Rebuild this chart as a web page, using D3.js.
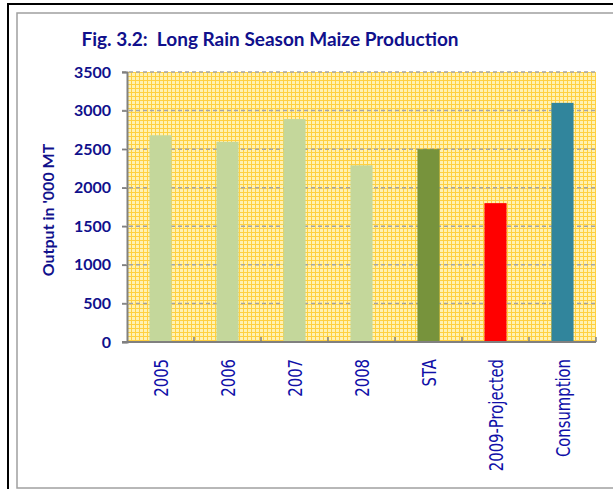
<!DOCTYPE html>
<html>
<head>
<meta charset="utf-8">
<title></title>
<script src="https://d3js.org/d3.v7.min.js"></script>
<style>
  body { margin: 0; background: #fff; }
</style>
</head>
<body>
<svg width="613" height="489"></svg>
<script>
  var categories = ["2005", "2006", "2007", "2008", "STA", "2009-Projected", "Consumption"];
  var values = [2680, 2595, 2890, 2290, 2500, 1800, 3100];
  var barColors = ["#c4d79b", "#c4d79b", "#c4d79b", "#c4d79b", "#77933c", "#ff0000", "#31859c"];
  var yTicks = [0, 500, 1000, 1500, 2000, 2500, 3000, 3500];

  var svg = d3.select("svg");
  var navy = "#10108c";

  // frames
  svg.append("rect").attr("x", 8).attr("y", 4).attr("width", 620).attr("height", 500)
    .attr("fill", "none").attr("stroke", "#000").attr("stroke-width", 2);
  svg.append("rect").attr("x", 17).attr("y", 13).attr("width", 620).attr("height", 475)
    .attr("fill", "none").attr("stroke", "#a0a0a0").attr("stroke-width", 1.5);

  var margin = {left: 127, top: 72, right: 17, bottom: 147};
  var width = 613 - margin.left - margin.right,
      height = 489 - margin.top - margin.bottom;

  var x = d3.scaleBand().domain(categories).range([0, width]).paddingInner(0.67).paddingOuter(0.335);
  var xb = d3.scaleBand().domain(categories).range([0, width]);
  var y = d3.scaleLinear().domain([0, 3500]).range([height, 0]);

  // grid pattern for plot background
  var defs = svg.append("defs");
  var pat = defs.append("pattern").attr("id", "grid").attr("width", 4).attr("height", 4)
    .attr("patternUnits", "userSpaceOnUse");
  pat.append("rect").attr("width", 4).attr("height", 4).attr("fill", "#fff2b3");
  pat.append("rect").attr("width", 4).attr("height", 1).attr("fill", "#ffd040");
  pat.append("rect").attr("width", 1).attr("height", 4).attr("fill", "#ffd040");

  var g = svg.append("g").attr("transform", "translate(" + margin.left + "," + margin.top + ")");

  g.append("rect").attr("width", width).attr("height", height).attr("fill", "url(#grid)");

  // dashed gridlines
  g.selectAll(".grid").data(yTicks.filter(function(d) { return d > 0; }))
    .enter().append("line")
    .attr("x1", -5).attr("x2", width)
    .attr("y1", function(d) { return y(d); }).attr("y2", function(d) { return y(d); })
    .attr("stroke", "#a6a6a6").attr("stroke-width", 1.5).attr("stroke-dasharray", "4,3");

  // bars
  g.selectAll(".bar").data(values).enter().append("rect")
    .attr("x", function(d, i) { return x(categories[i]); })
    .attr("width", x.bandwidth())
    .attr("y", function(d) { return y(d); })
    .attr("height", function(d) { return height - y(d); })
    .attr("fill", function(d, i) { return barColors[i]; });

  // y axis
  var yAxis = g.append("g").call(d3.axisLeft(y).tickValues(yTicks).tickFormat(d3.format("d")).tickSize(5).tickPadding(11));
  yAxis.select(".domain").attr("stroke", "#808080").attr("stroke-width", 2);
  yAxis.selectAll(".tick line").attr("stroke", "#808080").attr("stroke-width", 1.5);
  yAxis.selectAll(".tick text").attr("fill", navy)
    .style("font-family", "Lato, sans-serif").style("font-weight", "bold").style("font-size", "16px");

  // x axis
  var xAxisG = g.append("g").attr("transform", "translate(0," + height + ")");
  xAxisG.append("line").attr("x1", -5).attr("x2", width).attr("y1", 0).attr("y2", 0)
    .attr("stroke", "#808080").attr("stroke-width", 2);
  xAxisG.selectAll(".xt").data(categories.slice(1)).enter().append("line")
    .attr("x1", function(d) { return xb(d); }).attr("x2", function(d) { return xb(d); })
    .attr("y1", 0).attr("y2", -5).attr("stroke", "#808080").attr("stroke-width", 1.5);
  xAxisG.append("line").attr("x1", width).attr("x2", width).attr("y1", 0).attr("y2", -5)
    .attr("stroke", "#808080").attr("stroke-width", 1.5);

  xAxisG.selectAll(".xl").data(categories).enter().append("text")
    .attr("transform", function(d) {
      return "translate(" + (xb(d) + xb.bandwidth() / 2 + 7) + ",17) rotate(-90) scale(0.78,1)";
    })
    .attr("text-anchor", "end")
    .attr("fill", "#1010a8")
    .style("font-family", "'DejaVu Sans', sans-serif").style("font-size", "19px")
    .text(function(d) { return d; });

  // y title
  svg.append("text")
    .attr("transform", "translate(54,210) rotate(-90)")
    .attr("text-anchor", "middle").attr("fill", navy)
    .style("font-family", "Lato, sans-serif").style("font-weight", "bold").style("font-size", "16px")
    .text("Output in '000 MT");

  // title
  svg.append("text")
    .attr("x", 270).attr("y", 46)
    .attr("text-anchor", "middle").attr("fill", navy)
    .style("font-family", "Lato, sans-serif").style("font-weight", "bold").style("font-size", "19px")
    .style("white-space", "pre")
    .text("Fig. 3.2:  Long Rain Season Maize Production");
</script>
</body>
</html>
